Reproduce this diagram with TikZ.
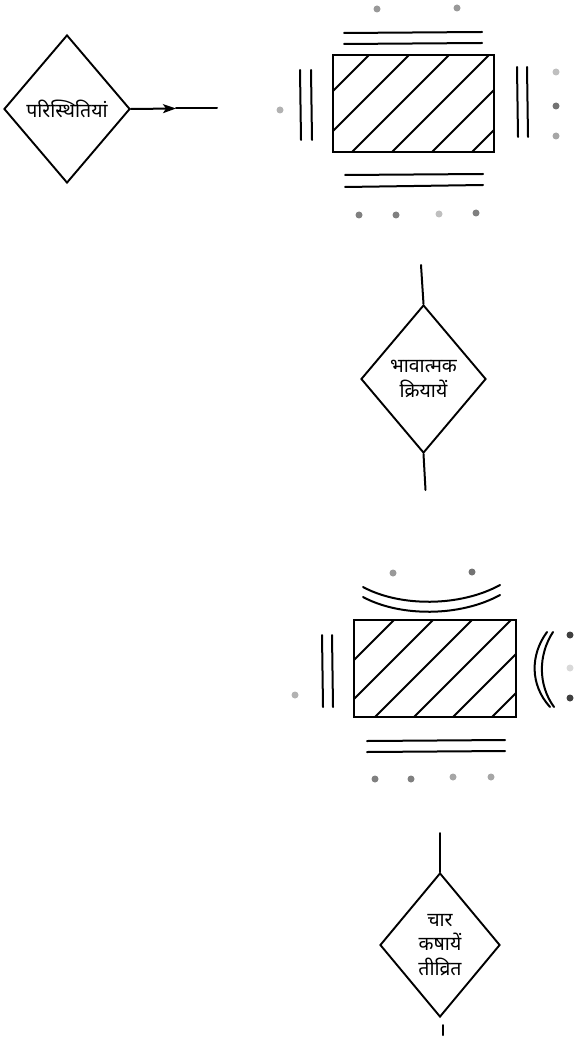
\documentclass[tikz,border=0pt]{standalone}
\usepackage{fontspec}
\newfontfamily\deva[Script=Devanagari]{Noto Sans}
\usetikzlibrary{shapes.geometric,arrows.meta}
\tikzset{
  ln/.style={line width=2pt, line cap=round},
  dia/.style={draw, shape=diamond, line width=1.9pt, inner sep=0pt, align=center,
    font=\deva\fontsize{19.5}{24.5}\selectfont},
  hatchbox/.style={draw, line width=2pt},
  dot/.style={circle, fill=black!40, inner sep=0pt, minimum size=7pt},
}
\begin{document}
\begin{tikzpicture}[x=1pt,y=-1pt]
\useasboundingbox (0,0) rectangle (574,1040);
% ---------- diamond 1 ----------
\node[dia, minimum width=126pt, minimum height=148pt] (d1) at (67,109) {परिस्थितियां};
\coordinate (amid) at (176,108.5);
\coordinate (aend) at (217,108.5);
\draw[ln,-{Stealth[length=13pt,width=9pt,inset=3pt]}] (d1.east) -- (amid);
\draw[ln] (amid) -- (aend);
% ---------- rect 1 ----------
\node[hatchbox, minimum width=161pt, minimum height=97pt, inner sep=0pt] (r1) at (413.5,103.5) {};
\begin{scope}
\clip ([shift={(1,1)}]r1.north west) rectangle ([shift={(-1,-1)}]r1.south east);
\foreach \c in {424,464,504,544,584,624}
  \draw[ln] (\c,0) -- (\c-250,250);
\end{scope}
\draw[ln] (344,33) -- (482,32);
\draw[ln] (344,44) -- (482,43);
\draw[ln] (345,175) -- (483,174);
\draw[ln] (345,187) -- (483,185);
\draw[ln] (300,70) -- (301,140);
\draw[ln] (311,70) -- (312,140);
\draw[ln] (517,67) -- (518,137);
\draw[ln] (527,67) -- (528,137);
\node[dot] (p1) at (377,9) {};
\node[dot] (p2) at (457,8) {};
\node[dot, fill=black!30] (p3) at (280,110) {};
\node[dot, fill=black!25] (p4) at (556,72) {};
\node[dot, fill=black!55] (p5) at (556,106) {};
\node[dot, fill=black!35] (p6) at (556,136) {};
\node[dot, fill=black!50] (p7) at (359,215) {};
\node[dot, fill=black!50] (p8) at (396,215) {};
\node[dot, fill=black!25] (p9) at (439,214) {};
\node[dot, fill=black!50] (p10) at (476,213) {};
% ---------- diamond 2 ----------
\node[dia, minimum width=125pt, minimum height=148pt] (d2) at (423.5,379) {भावात्मक\\क्रियायें};
\coordinate (d2top) at (421,265);
\coordinate (d2bot) at (425.5,490);
\draw[ln] (d2top) -- (d2.north);
\draw[ln] (d2.south) -- (d2bot);
% ---------- rect 2 ----------
\node[hatchbox, minimum width=162pt, minimum height=97pt, inner sep=0pt] (r2) at (435,668.5) {};
\begin{scope}
\clip ([shift={(1,1)}]r2.north west) rectangle ([shift={(-1,-1)}]r2.south east);
\foreach \c in {1014,1053,1092,1131,1170,1209}
  \draw[ln] (\c-600,600) -- (\c-800,800);
\end{scope}
\draw[ln] (363,587) .. controls (400,607) and (460,607) .. (500,585);
\draw[ln] (363,597) .. controls (400,617) and (460,617) .. (500,595);
\draw[ln] (547,632) .. controls (530,655) and (530,685) .. (550,707);
\draw[ln] (553,632) .. controls (538,655) and (538,685) .. (554,707);
\draw[ln] (322,635) -- (323,707);
\draw[ln] (332,635) -- (333,707);
\draw[ln] (367,741) -- (505,740);
\draw[ln] (367,752) -- (505,751);
\node[dot] (q1) at (393,573) {};
\node[dot, fill=black!55] (q2) at (472,572) {};
\node[dot, fill=black!30] (q3) at (295,695) {};
\node[dot, fill=black!75] (q4) at (570,635) {};
\node[dot, fill=black!15] (q5) at (570,668) {};
\node[dot, fill=black!75] (q6) at (570,698) {};
\node[dot, fill=black!50] (q7) at (375,779) {};
\node[dot, fill=black!50] (q8) at (411,779) {};
\node[dot, fill=black!35] (q9) at (453,777) {};
\node[dot, fill=black!35] (q10) at (491,777) {};
% ---------- diamond 3 ----------
\node[dia, minimum width=120pt, minimum height=144pt] (d3) at (440,945) {चार\\कषायें\\तीव्रित};
\coordinate (d3top) at (440,833);
\coordinate (t1) at (443,1025);
\coordinate (t2) at (443,1035);
\draw[ln] (d3top) -- (d3.north);
\draw[ln] (t1) -- (t2);
\end{tikzpicture}
\end{document}
